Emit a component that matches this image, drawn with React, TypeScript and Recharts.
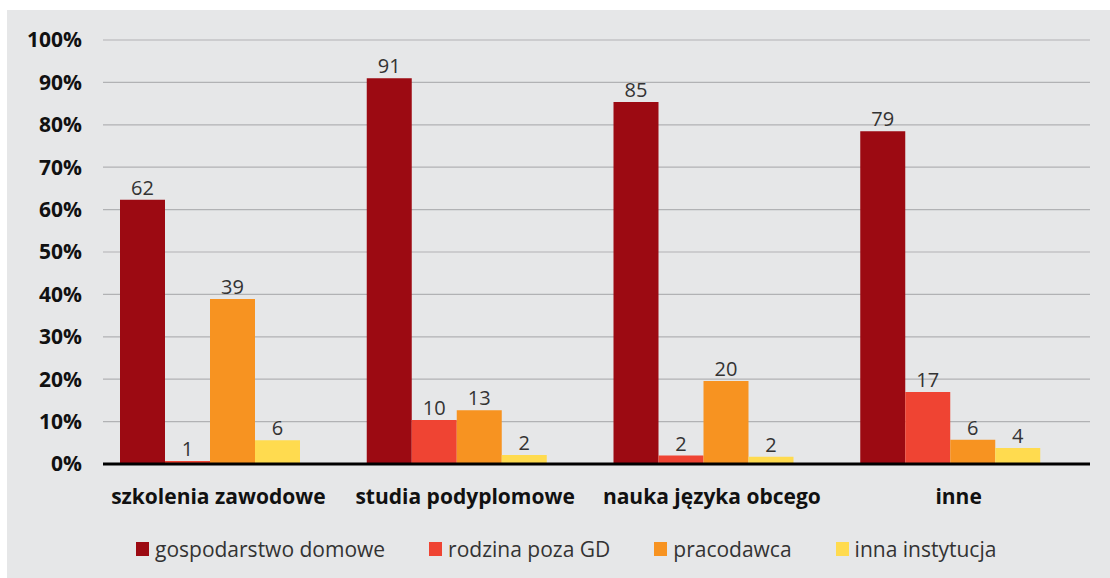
import React from 'react';
import { BarChart, Bar, XAxis, YAxis, CartesianGrid, Legend, LabelList } from 'recharts';

const categories = ['szkolenia zawodowe', 'studia podyplomowe', 'nauka języka obcego', 'inne'];
const gospodarstwo = [62.3, 91.0, 85.4, 78.5];
const rodzina = [0.7, 10.4, 2.0, 17.0];
const pracodawca = [38.9, 12.7, 19.6, 5.7];
const inna = [5.6, 2.1, 1.7, 3.8];
const yTicks = [0, 10, 20, 30, 40, 50, 60, 70, 80, 90, 100];

const seriesNames = ['gospodarstwo domowe', 'rodzina poza GD', 'pracodawca', 'inna instytucja'];
const seriesColors = ['#9c0a12', '#ef4433', '#f79321', '#ffdb4f'];

const data = categories.map((c, i) => ({
  name: c,
  s0: gospodarstwo[i],
  s1: rodzina[i],
  s2: pracodawca[i],
  s3: inna[i],
}));

const FONT = '"Open Sans", "Noto Sans", sans-serif';

const LegendContent = () => {
  return (
    <div style={{ height: 58, display: 'flex', alignItems: 'center', paddingLeft: 129, fontFamily: FONT }}>
      {seriesNames.map((n, i) => (
        <div key={i} style={{ display: 'flex', alignItems: 'center', marginRight: 44 }}>
          <span style={{ width: 13, height: 14, background: seriesColors[i], display: 'inline-block', marginRight: 6 }} />
          <span style={{ fontSize: 21, color: '#333', fontWeight: 400 }}>{n}</span>
        </div>
      ))}
    </div>
  );
};

export default function App() {
  return (
    <div style={{ position: 'fixed', left: 7, top: 10, width: 1103, height: 568, background: '#e6e7e8' }}>
      <BarChart
        width={1103}
        height={568}
        data={data}
        margin={{ top: 30, right: 20, left: 0, bottom: 0 }}
        barGap={0}
        barSize={45}
      >
        <CartesianGrid vertical={false} stroke="#b1b2b4" strokeWidth={1.2} />
        <XAxis
          dataKey="name"
          height={56}
          padding={{ left: -16, right: 16 }}
          axisLine={{ stroke: '#000', strokeWidth: 3 }}
          tickLine={false}
          tickSize={0}
          tickMargin={25}
          interval={0}
          tick={{ fill: '#111', fontSize: 21, fontWeight: 700, fontFamily: FONT, dx: 8 }}
        />
        <YAxis
          width={96}
          domain={[0, 100]}
          ticks={yTicks}
          interval={0}
          axisLine={false}
          tickLine={false}
          tickSize={0}
          tickMargin={21}
          tickFormatter={(v: number) => `${v}%`}
          tick={{ fill: '#111', fontSize: 21, fontWeight: 700, fontFamily: FONT }}
        />
        <Legend verticalAlign="bottom" content={<LegendContent />} />
        {['s0', 's1', 's2', 's3'].map((k, i) => (
          <Bar key={k} dataKey={k} name={seriesNames[i]} fill={seriesColors[i]} isAnimationActive={false}>
            <LabelList
              dataKey={k}
              position="top"
              offset={5}
              formatter={(v: number) => Math.round(v)}
              style={{ fill: '#333', fontSize: 20, fontFamily: FONT, fontWeight: 400 }}
            />
          </Bar>
        ))}
      </BarChart>
    </div>
  );
}
